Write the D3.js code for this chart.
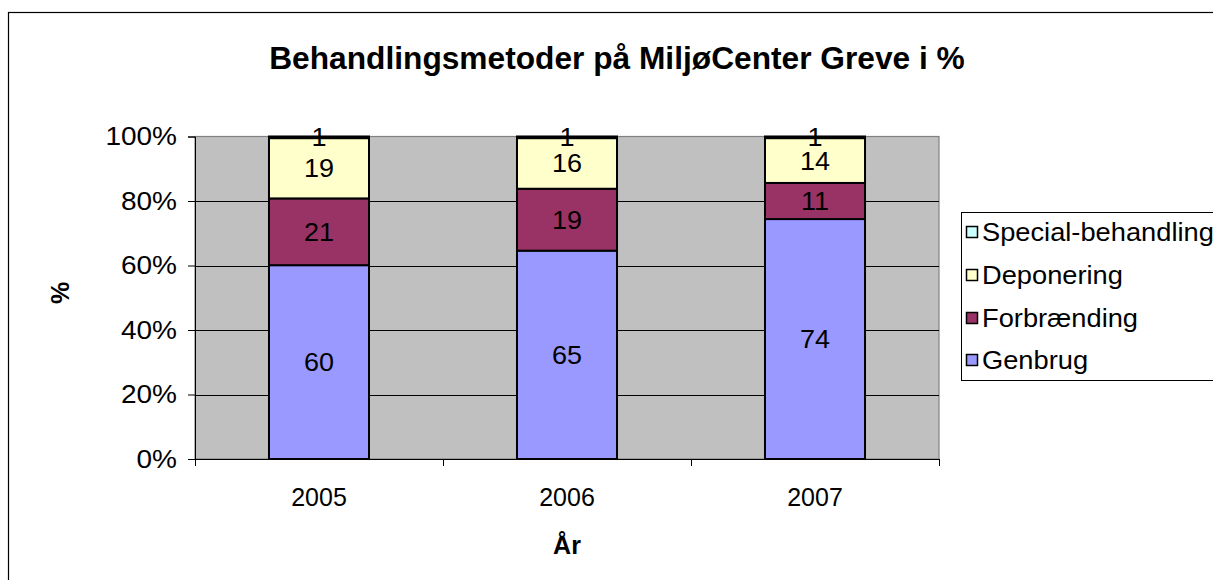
<!DOCTYPE html>
<html><head><meta charset="utf-8">
<script src="https://cdn.jsdelivr.net/npm/d3@7"></script>
<style>body{margin:0;background:#fff;} svg{display:block;font-family:"Liberation Sans",Arial,sans-serif;}</style>
</head><body>
<svg id="c" width="1213" height="580"></svg>
<script>
const categories = ["2005", "2006", "2007"];
const seriesNames = ["Genbrug", "Forbrænding", "Deponering", "Special-behandling"];
const genbrug = [60.1, 64.6, 74.4];
const forbraending = [20.7, 19.2, 11.2];
const deponering = [18.7, 15.7, 13.9];
const special = [0.5, 0.5, 0.5];
const colors = ["#9999FF", "#993366", "#FFFFCC", "#CCFFFF"];
const yTicks = [0, 0.2, 0.4, 0.6, 0.8, 1.0];
const title = "Behandlingsmetoder på MiljøCenter Greve i %";

const FS = 25;
const svg = d3.select("#c");
const m = {left:195, top:136.5, right:939, bottom:459};

function stretch(sel, f){
  sel.each(function(){
    const w = this.getComputedTextLength();
    d3.select(this).attr("textLength", w*f).attr("lengthAdjust","spacingAndGlyphs");
  });
}

svg.append("rect").attr("x",8.5).attr("y",12.5).attr("width",1400).attr("height",800)
  .attr("fill","#fff").attr("stroke","#000").attr("stroke-width",1.2);

const table = categories.map((c,i)=>({cat:c, Genbrug:genbrug[i], "Forbrænding":forbraending[i], Deponering:deponering[i], "Special-behandling":special[i]}));
const stack = d3.stack().keys(seriesNames).offset(d3.stackOffsetExpand);
const layers = stack(table);

const x = d3.scaleBand().domain(categories).range([m.left, m.right]).paddingInner(0.5967).paddingOuter(0.2983);
const y = d3.scaleLinear().domain([0,1]).range([m.bottom, m.top]);

svg.append("rect").attr("x",m.left).attr("y",m.top).attr("width",m.right-m.left).attr("height",m.bottom-m.top)
  .attr("fill","#C0C0C0").attr("stroke","#808080").attr("stroke-width",1.2);

svg.append("g").selectAll("line").data(yTicks.slice(1,-1)).join("line")
  .attr("x1",m.left).attr("x2",m.right).attr("y1",d=>Math.round(y(d))+0.5).attr("y2",d=>Math.round(y(d))+0.5)
  .attr("stroke","#000").attr("stroke-width",1);

const g = svg.append("g");
layers.forEach((layer,li)=>{
  g.append("g").selectAll("rect").data(layer).join("rect")
    .attr("x",d=>x(d.data.cat)).attr("width",x.bandwidth())
    .attr("y",d=>y(d[1])).attr("height",d=>y(d[0])-y(d[1]))
    .attr("fill",colors[li]).attr("stroke","#000").attr("stroke-width",2);
});
layers.forEach((layer,li)=>{
  const key = seriesNames[li];
  const t = g.append("g").selectAll("text").data(layer).join("text")
    .attr("x",d=>x(d.data.cat)+x.bandwidth()/2)
    .attr("y",d=>(y(d[0])+y(d[1]))/2)
    .attr("dy","0.36em").attr("text-anchor","middle").attr("font-size",FS).attr("fill","#000")
    .text(d=>Math.round(d.data[key]));
  stretch(t, 1.08);
});

const yAxis = d3.axisLeft(y).tickValues(yTicks).tickFormat(d3.format(".0%")).tickSize(7).tickPadding(11);
const ya = svg.append("g").attr("transform",`translate(${m.left},0)`).call(yAxis);
ya.select(".domain").attr("stroke","#000");
ya.selectAll("line").attr("stroke","#000");
const yt = ya.selectAll("text").attr("font-size",FS).attr("font-family","Liberation Sans, Arial, sans-serif").attr("fill","#000");
stretch(yt, 1.12);

const xa = svg.append("g").attr("transform",`translate(0,${m.bottom})`);
xa.append("line").attr("x1",m.left).attr("x2",m.right).attr("y1",0.5).attr("y2",0.5).attr("stroke","#000");
const bounds = [0,1,2,3].map(i=>m.left + i*(m.right-m.left)/3);
xa.selectAll("line.t").data(bounds).join("line").attr("class","t")
  .attr("x1",d=>Math.round(d)+0.5).attr("x2",d=>Math.round(d)+0.5).attr("y1",0).attr("y2",7).attr("stroke","#000");
xa.selectAll("text").data(categories).join("text")
  .attr("x",d=>x(d)+x.bandwidth()/2).attr("y",38).attr("dy","0.36em").attr("text-anchor","middle").attr("font-size",FS).attr("fill","#000").text(d=>d);

svg.append("text").attr("x",617).attr("y",58).attr("dy","0.36em").attr("text-anchor","middle").attr("font-size",31.7).attr("font-weight","bold").text(title);
svg.append("text").attr("x",567).attr("y",545).attr("dy","0.36em").attr("text-anchor","middle").attr("font-size",FS).attr("font-weight","bold").text("År");
svg.append("text").attr("transform","translate(60,293) rotate(-90)").attr("dy","0.36em").attr("text-anchor","middle").attr("font-size",FS).attr("font-weight","bold").text("%");

const lg = svg.append("g");
lg.append("rect").attr("x",961.5).attr("y",212.5).attr("width",300).attr("height",168).attr("fill","#fff").attr("stroke","#000").attr("stroke-width",1);
const legendItems = seriesNames.map((n,i)=>({name:n,color:colors[i]})).reverse();
const rowY = [232, 275, 318, 360];
legendItems.forEach((it,i)=>{
  lg.append("rect").attr("x",966.5).attr("y",rowY[i]-5.5).attr("width",11).attr("height",11).attr("fill",it.color).attr("stroke","#000").attr("stroke-width",1.5);
  const t = lg.append("text").attr("x",982).attr("y",rowY[i]).attr("dy","0.36em").attr("font-size",FS).attr("fill","#000").text(it.name);
  stretch(t, 1.09);
});
</script>
</body></html>
